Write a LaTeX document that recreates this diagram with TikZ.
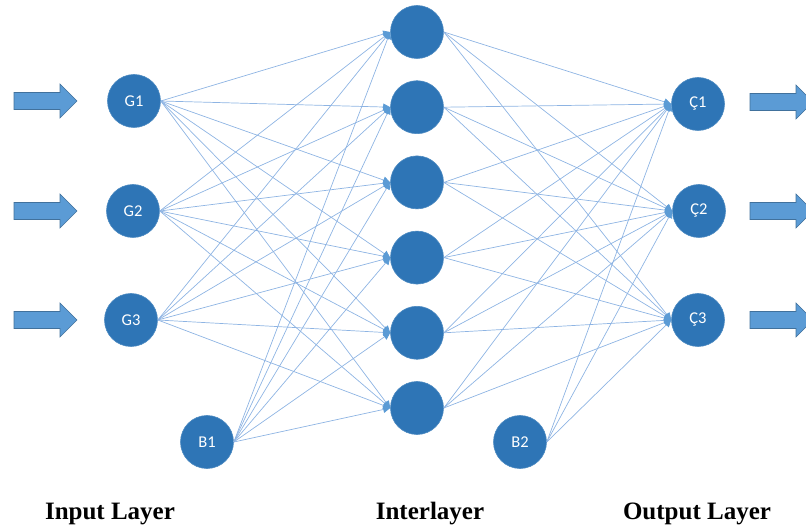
\documentclass[tikz,border=0pt]{standalone}
\usepackage{fontspec}
\setmainfont{Liberation Serif}
\newfontfamily\neuronfont{Carlito}
\usetikzlibrary{arrows.meta}
\definecolor{nodeblue}{HTML}{2E75B6}
\definecolor{edgeblue}{HTML}{8EB4E3}
\definecolor{tipblue}{HTML}{5B9BD5}
\definecolor{arrowfill}{HTML}{5B9BD5}
\definecolor{arrowedge}{HTML}{41719C}
\tikzset{
  neuron/.style={circle, fill=nodeblue, draw=nodeblue!85!white, line width=0.6pt,
    minimum size=53pt, inner sep=0pt, text=white,
    font=\neuronfont\fontsize{16.5}{16.5}\selectfont},
  link/.style={draw=edgeblue, line width=0.7pt,
    -{Triangle[length=7pt,width=7pt,color=tipblue]}},
  layerlabel/.style={anchor=base, font=\bfseries\fontsize{25}{25}\selectfont},
  blockarr/.pic={
    \draw[fill=arrowfill, draw=arrowedge, line width=0.6pt]
      (0,-8.5) -- (46,-8.5) -- (46,-17) -- (63,0) -- (46,17) -- (46,8.5) -- (0,8.5) -- cycle;
  }
}
\begin{document}
\begin{tikzpicture}[x=1pt,y=-1pt]
\useasboundingbox (0,0) rectangle (806,526);

% input layer
\node[neuron] (g1) at (134,101) {G1};
\node[neuron] (g2) at (133,211) {G2};
\node[neuron] (g3) at (131,320) {G3};
\node[neuron] (b1) at (207,442) {B1};

% hidden layer
\foreach \i in {1,...,6}
  \node[neuron] (h\i) at (417,{32+75.2*(\i-1)}) {};

% output layer
\node[neuron] (c1) at (698,104) {Ç1};
\node[neuron] (c2) at (699,211) {Ç2};
\node[neuron] (c3) at (698,320) {Ç3};
\node[neuron] (b2) at (520,442) {B2};

% weighted connections
\foreach \s in {g1,g2,g3,b1}
  \foreach \t in {1,...,6}
    \draw[link] (\s.east) -- (h\t.west);
\foreach \s in {1,...,6}
  \foreach \t in {c1,c2,c3}
    \draw[link] (h\s.east) -- (\t.west);
\foreach \t in {c1,c2,c3}
  \draw[link] (b2.east) -- (\t.west);

% input and output block arrows
\pic at (14,101) {blockarr};
\pic at (14,211) {blockarr};
\pic at (14,320) {blockarr};
\pic at (750,102) {blockarr};
\pic at (750,211) {blockarr};
\pic at (750,320) {blockarr};

% layer captions
\node[layerlabel] (lin) at (110,519) {Input Layer};
\node[layerlabel] (lhid) at (430,519) {Interlayer};
\node[layerlabel] (lout) at (697,519) {Output Layer};
\end{tikzpicture}
\end{document}
